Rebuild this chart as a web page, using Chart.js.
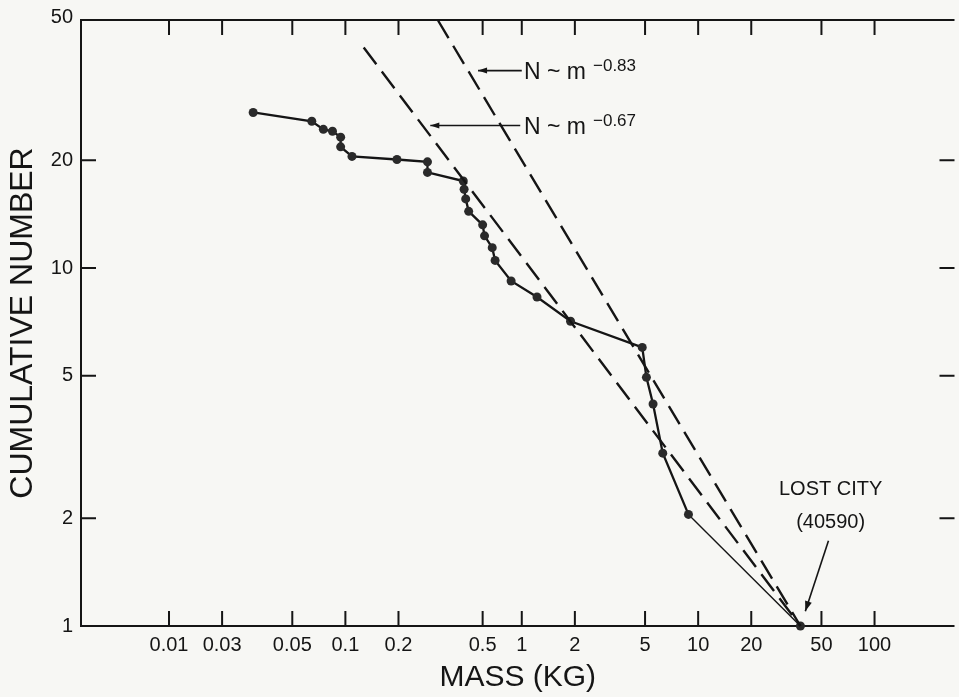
<!DOCTYPE html>
<html><head><meta charset="utf-8">
<script src="https://cdn.jsdelivr.net/npm/chart.js@4.4.1/dist/chart.umd.min.js"></script>
<style>html,body{margin:0;padding:0;background:#f7f7f4;}#wrap{width:959px;height:697px;position:relative;}</style>
</head><body><div id="wrap"><canvas id="c"></canvas></div>
<script>
// ---- data ----
const massKg = [0.030, 0.0645, 0.075, 0.0845, 0.094, 0.094, 0.109, 0.196, 0.292, 0.292,
  0.466, 0.471, 0.481, 0.50, 0.60, 0.615, 0.68, 0.706, 0.87, 1.22, 1.89,
  4.82, 5.09, 5.55, 6.30, 8.81, 38];
const cumulativeNumber = [27.2, 25.7, 24.4, 24.1, 23.2, 21.8, 20.5, 20.1, 19.8, 18.5,
  17.5, 16.6, 15.6, 14.4, 13.2, 12.3, 11.4, 10.5, 9.2, 8.3, 7.1,
  6.0, 4.95, 4.17, 3.04, 2.05, 1];
const fitSteepMass = [0.334, 38];   // N ~ m^-0.83
const fitSteepN = [49.3, 1];
const fitShallowMass = [0.127, 38]; // N ~ m^-0.67
const fitShallowN = [41.3, 1];
// tick marks as placed in the original figure, with its printed labels
const xTickPositions = [0.01, 0.02, 0.05, 0.1, 0.2, 0.6, 1, 2, 5, 10, 20, 50, 100];
const xTickLabels = ['0.01', '0.03', '0.05', '0.1', '0.2', '0.5', '1', '2', '5', '10', '20', '50', '100'];
const yTickValues = [1, 2, 5, 10, 20, 50];
const yTickLabels = ['1', '2', '5', '10', '20', '50'];

// ---- styling / annotations ----
const INK = '#151515';
const PAPER = '#f7f7f4';
const FONT = "'Liberation Sans', Arial, Helvetica, sans-serif";
const notes = {
  steep:   { text: 'N ~ m', exp: '\u22120.83', m: 1.03, n: 35.6, arrowFrom: 1.0, arrowTo: 0.565 },
  shallow: { text: 'N ~ m', exp: '\u22120.67', m: 1.03, n: 25.0, arrowFrom: 0.98, arrowTo: 0.303 },
  lost: { lines: ['LOST CITY', '(40590)'], m: 56.4, n: [2.40, 1.95], a1: [54.8, 1.73], a2: [40.5, 1.10] }
};

function arrow(ctx, x1, y1, x2, y2, head, hw) {
  ctx.beginPath(); ctx.moveTo(x1, y1); ctx.lineTo(x2, y2); ctx.stroke();
  const a = Math.atan2(y2 - y1, x2 - x1);
  const c = Math.cos(a), s = Math.sin(a);
  ctx.beginPath(); ctx.moveTo(x2, y2);
  ctx.lineTo(x2 - head * c + hw * s, y2 - head * s - hw * c);
  ctx.lineTo(x2 - head * c - hw * s, y2 - head * s + hw * c);
  ctx.closePath(); ctx.fill();
}

const paperPlugin = {
  id: 'paper',
  beforeDraw(chart) {
    const { ctx, width, height } = chart;
    ctx.save(); ctx.fillStyle = PAPER; ctx.fillRect(0, 0, width, height); ctx.restore();
  },
  beforeDatasetsDraw(chart) {
    const { ctx, chartArea: a, scales: { x, y } } = chart;
    ctx.save(); ctx.strokeStyle = INK; ctx.lineWidth = 2;
    ctx.beginPath();
    ctx.moveTo(a.right, a.top); ctx.lineTo(a.left, a.top); ctx.lineTo(a.left, a.bottom); ctx.lineTo(a.right, a.bottom);
    ctx.stroke();
    const L = 15;
    ctx.beginPath();
    xTickPositions.forEach(v => {
      const px = x.getPixelForValue(v);
      ctx.moveTo(px, a.bottom); ctx.lineTo(px, a.bottom - L);
      ctx.moveTo(px, a.top); ctx.lineTo(px, a.top + L);
    });
    yTickValues.forEach(v => {
      if (v === 1 || v === 50) return;
      const py = y.getPixelForValue(v);
      ctx.moveTo(a.left, py); ctx.lineTo(a.left + L, py);
      ctx.moveTo(a.right, py); ctx.lineTo(a.right - L, py);
    });
    ctx.stroke(); ctx.restore();
  },
  afterDatasetsDraw(chart) {
    const { ctx, scales: { x, y } } = chart;
    ctx.save();
    ctx.fillStyle = INK; ctx.strokeStyle = INK; ctx.lineWidth = 1.6;
    ctx.textBaseline = 'alphabetic';
    [notes.steep, notes.shallow].forEach(nt => {
      const px = x.getPixelForValue(nt.m), py = y.getPixelForValue(nt.n);
      ctx.font = `23px ${FONT}`; ctx.textAlign = 'left';
      ctx.fillText(nt.text, px, py + 8);
      const w = ctx.measureText(nt.text).width;
      ctx.font = `17px ${FONT}`;
      ctx.fillText(nt.exp, px + w + 7, py);
      arrow(ctx, x.getPixelForValue(nt.arrowFrom), py, x.getPixelForValue(nt.arrowTo), py, 9, 3);
    });
    const lc = notes.lost;
    ctx.font = `20px ${FONT}`; ctx.textAlign = 'center'; ctx.textBaseline = 'middle';
    lc.lines.forEach((t, i) => ctx.fillText(t, x.getPixelForValue(lc.m), y.getPixelForValue(lc.n[i])));
    arrow(ctx, x.getPixelForValue(lc.a1[0]), y.getPixelForValue(lc.a1[1]),
      x.getPixelForValue(lc.a2[0]), y.getPixelForValue(lc.a2[1]), 10, 3.5);
    ctx.restore();
  }
};

const toPts = (xs, ys) => xs.map((v, i) => ({ x: v, y: ys[i] }));
const lastSeg = massKg.length - 1;

new Chart(document.getElementById('c'), {
  type: 'scatter',
  data: {
    datasets: [
      { label: 'N ~ m^-0.83', data: toPts(fitSteepMass, fitSteepN), showLine: true, borderColor: INK,
        borderWidth: 2.4, borderDash: [21, 9], pointRadius: 0, clip: false },
      { label: 'N ~ m^-0.67', data: toPts(fitShallowMass, fitShallowN), showLine: true, borderColor: INK,
        borderWidth: 2.4, borderDash: [21, 9], pointRadius: 0, clip: false },
      { label: 'Meteorites', data: toPts(massKg, cumulativeNumber), showLine: true, borderColor: INK,
        borderWidth: 2.3, pointRadius: 4.5, pointBackgroundColor: '#2a2a2a', pointBorderWidth: 0, clip: false,
        segment: { borderWidth: ctx => ctx.p1DataIndex === lastSeg ? 1.4 : 2.3 } }
    ]
  },
  options: {
    responsive: true, maintainAspectRatio: false, animation: false,
    layout: { padding: { top: 15, right: 0, bottom: 0, left: 0 } },
    plugins: { legend: { display: false }, tooltip: { enabled: false } },
    scales: {
      x: {
        type: 'logarithmic', position: 'bottom', min: 0.00317, max: 284,
        afterBuildTicks: s => { s.ticks = xTickPositions.map(v => ({ value: v })); },
        afterFit: s => { s.height = 71; },
        grid: { display: false, drawTicks: false }, border: { display: false },
        ticks: { autoSkip: false, maxRotation: 0, minRotation: 0, padding: 7, color: INK,
          font: { family: FONT, size: 20 }, callback: (v, i) => xTickLabels[i] },
        title: { display: true, text: 'MASS (KG)', color: INK, font: { family: FONT, size: 30, lineHeight: 1 },
          padding: { top: 4, bottom: 4 } }
      },
      y: {
        type: 'logarithmic', position: 'left', min: 1, max: 49.3,
        afterBuildTicks: s => { s.ticks = yTickValues.map(v => ({ value: v })); },
        afterFit: s => { s.width = 81; },
        grid: { display: false, drawTicks: false }, border: { display: false },
        ticks: { padding: 8, color: INK, font: { family: FONT, size: 20 }, callback: (v, i) => yTickLabels[i] },
        title: { display: true, text: 'CUMULATIVE NUMBER', color: INK, font: { family: FONT, size: 32, lineHeight: 1 },
          padding: { top: 7, bottom: 4 } }
      }
    }
  },
  plugins: [paperPlugin]
});
</script></body></html>
